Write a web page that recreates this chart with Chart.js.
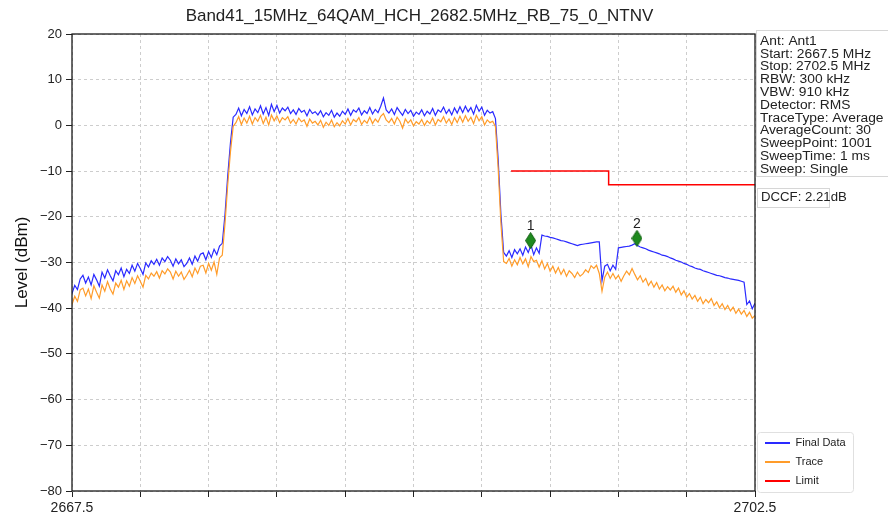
<!DOCTYPE html>
<html>
<head>
<meta charset="utf-8">
<script src="https://cdnjs.cloudflare.com/ajax/libs/Chart.js/4.4.1/chart.umd.min.js"></script>
<style>
    body { margin: 0; background: #ffffff; }
    canvas { display: block; }
</style>
</head>
<body>
<canvas id="spectrum" width="888" height="516"></canvas>
<script>
    // sweep grid (251 points across the span)
    const freqStart = 2667.5;
    const freqStop = 2702.5;

    // Final Data trace, dBm
    const finalData = [
        -36.8, -35.0, -35.9, -33.6, -32.8, -34.5, -33.2, -34.9, -32.6, -33.8,
        -35.2, -32.1, -33.4, -31.6, -32.9, -34.0, -31.8, -32.7, -31.2, -33.1,
        -31.5, -32.4, -30.6, -31.9, -30.2, -31.3, -32.6, -30.1, -31.0, -29.6,
        -30.4, -29.3, -30.6, -29.0, -29.8, -28.7, -29.5, -30.8, -29.2, -30.3,
        -29.4, -30.9, -30.2, -29.0, -30.4, -28.6, -29.7, -28.2, -27.9, -29.4,
        -27.6, -28.9, -27.1, -28.3, -26.4, -25.8, -19.5, -11.0, -3.8, 1.8,
        2.4, 3.8, 2.1, 3.5, 2.6, 4.1, 2.3, 3.6, 2.8, 4.3,
        2.5, 3.9, 2.2, 4.6, 3.0, 4.4, 2.7, 3.8, 3.2, 4.0,
        2.6, 3.4, 2.4, 3.7, 2.9, 3.3, 2.1, 3.5, 2.6, 3.0,
        2.3, 3.2, 1.9, 2.8, 2.2, 3.3, 1.8, 2.7, 2.0, 3.1,
        2.4, 3.6, 2.2, 3.4, 2.9, 3.8, 2.3, 3.2, 2.6, 3.9,
        2.5, 3.5, 2.8, 4.2, 6.0, 3.4, 2.7, 3.6, 2.4, 3.9,
        3.0, 2.2, 3.5, 2.6, 3.3, 2.0, 2.9, 2.4, 3.4, 2.1,
        3.1, 2.5, 3.7, 2.2, 3.4, 2.9, 4.0, 2.6, 3.5, 2.3,
        3.8, 2.7, 4.1, 2.8, 4.2, 3.0, 3.9, 2.5, 4.4, 3.1,
        4.0, 2.2, 3.3, 2.7, 3.0, 1.5, -7.5, -19.5, -27.8, -28.6,
        -27.4, -28.9, -27.2, -28.1, -27.0, -28.4, -26.6, -27.8, -26.2, -28.3,
        -26.8, -28.0, -24.0, -24.2, -24.3, -24.5, -24.6, -24.8, -25.0, -25.2,
        -25.3, -25.5, -25.7, -25.9, -26.1, -26.3, -26.1, -26.0, -25.9, -25.8,
        -25.7, -25.6, -25.5, -25.5, -34.0, -30.8, -30.4, -31.8, -30.6, -31.5,
        -26.8, -26.7, -26.6, -26.5, -26.4, -26.2, -25.9, -26.3, -26.6, -26.8,
        -27.0, -27.3, -27.5, -27.7, -27.9, -28.1, -28.4, -28.5, -28.7, -29.0,
        -29.2, -29.5, -29.7, -29.9, -30.2, -30.4, -30.7, -30.9, -31.2, -31.4,
        -31.5, -31.8, -32.0, -32.2, -32.4, -32.6, -32.8, -32.9, -33.1, -33.3,
        -33.4, -33.6, -33.7, -33.8, -33.9, -34.1, -34.3, -39.2, -38.4, -40.1,
        -38.9
    ];

    // Trace (average) values, dBm
    const traceData = [
        -39.2, -37.4, -38.5, -36.0, -35.6, -37.3, -35.8, -37.9, -35.1, -36.5,
        -37.8, -34.9, -36.3, -34.2, -35.8, -36.9, -34.5, -35.4, -33.9, -35.9,
        -34.0, -35.2, -33.3, -34.6, -32.9, -34.1, -35.4, -32.8, -33.6, -32.3,
        -33.0, -32.0, -33.4, -31.8, -32.5, -31.4, -32.1, -33.6, -31.9, -33.0,
        -32.1, -33.7, -32.8, -31.7, -33.1, -31.2, -32.4, -30.8, -30.6, -32.3,
        -30.2, -31.7, -29.9, -32.6, -29.0, -28.4, -21.5, -13.0, -5.8, -0.2,
        0.6, 1.9, 0.2, 1.6, 0.5, 2.0, 0.3, 1.7, 0.9, 2.2,
        0.4, 1.8, 0.1, 2.3, 1.0, 2.1, 0.6, 1.7, 1.2, 1.9,
        0.5, 1.3, 0.3, 1.6, 0.8, 1.2, -0.2, 1.4, 0.5, 0.9,
        0.1, 1.1, -0.4, 0.7, 0.0, 1.2, -0.3, 0.6, -0.1, 1.0,
        0.3, 1.5, 0.1, 1.3, 0.8, 1.7, 0.2, 1.1, 0.5, 1.8,
        0.4, 1.4, 0.7, 2.0, 2.6, 1.2, 0.6, 1.5, 0.3, 1.8,
        0.9, -0.6, 1.4, 0.5, 1.2, -0.1, 0.8, 0.3, 1.3, 0.0,
        1.0, 0.4, 1.6, 0.1, 1.3, 0.8, 1.9, 0.5, 1.4, 0.2,
        1.7, 0.6, 2.0, 0.7, 2.1, 0.9, 1.8, 0.4, 2.2, 1.0,
        1.9, 0.1, 1.2, 0.6, 0.9, -0.3, -9.5, -21.5, -29.8, -30.2,
        -29.1, -30.8, -29.4, -30.5, -28.9, -30.3, -29.2, -30.9, -28.7, -29.8,
        -29.5, -31.0, -29.6, -31.4, -30.2, -31.9, -30.8, -32.3, -31.1, -32.6,
        -31.5, -33.0, -31.8, -32.4, -33.3, -32.1, -33.0, -32.5, -31.6, -32.2,
        -30.7, -31.3, -30.6, -32.4, -36.3, -33.2, -32.1, -33.5, -32.4, -33.6,
        -32.8, -34.1, -32.9, -31.9, -32.7, -31.3, -32.6, -33.8, -32.9, -34.3,
        -33.5, -35.0, -34.1, -35.4, -34.4, -35.8, -34.9, -36.2, -35.3, -36.0,
        -35.2, -36.5, -35.6, -37.1, -36.2, -37.6, -36.8, -38.0, -37.2, -38.5,
        -37.6, -39.0, -38.1, -38.8, -37.9, -39.4, -38.6, -39.9, -39.0, -40.3,
        -39.4, -40.6, -39.8, -41.1, -40.2, -41.3, -40.5, -41.8, -40.9, -42.2,
        -41.6
    ];

    // limit line
    const limitFreq = [2690, 2695, 2695, 2702.5];
    const limitLevel = [-10, -10, -13, -13];

    // markers
    const markerNames = ['1', '2'];
    const markerFreq = [2691.0, 2696.45];
    const markerLevel = [-25.2, -24.7];

    // axes
    const xTicks = [2667.5, 2671, 2674.5, 2678, 2681.5, 2685, 2688.5, 2692, 2695.5, 2699, 2702.5];
    const yTicks = [20, 10, 0, -10, -20, -30, -40, -50, -60, -70, -80];

    const chartTitle = 'Band41_15MHz_64QAM_HCH_2682.5MHz_RB_75_0_NTNV';
    const infoLines = [
        'Ant: Ant1',
        'Start: 2667.5 MHz',
        'Stop: 2702.5 MHz',
        'RBW: 300 kHz',
        'VBW: 910 kHz',
        'Detector: RMS',
        'TraceType: Average',
        'AverageCount: 30',
        'SweepPoint: 1001',
        'SweepTime: 1 ms',
        'Sweep: Single'
    ];
    const dccfText = 'DCCF: 2.21dB';

    const FONT = '"Liberation Sans", Arial, Helvetica, sans-serif';
    Chart.defaults.font.family = FONT;
    Chart.defaults.color = '#222222';

    function freqAt(i, n) {
        return freqStart + i * (freqStop - freqStart) / (n - 1);
    }
    function toPoints(arr) {
        return arr.map((v, i) => ({ x: freqAt(i, arr.length), y: v }));
    }

    // thin green diamond for the markers
    var diamond = document.createElement('canvas');
    diamond.width = 11;
    diamond.height = 17;
    var dg = diamond.getContext('2d');
    dg.beginPath();
    dg.moveTo(5.5, 0.5);
    dg.lineTo(10.5, 8.5);
    dg.lineTo(5.5, 16.5);
    dg.lineTo(0.5, 8.5);
    dg.closePath();
    dg.fillStyle = '#1e8a1e';
    dg.fill();
    dg.strokeStyle = '#0c5c0c';
    dg.lineWidth = 1;
    dg.stroke();

    var decor = {
        id: 'decor',
        afterLayout(chart) {
            // nudge legend and title a few px, as in the original figure
            const lg = chart.legend;
            lg.top += 3.5; lg.bottom += 3.5;
            lg.left += 2; lg.right += 2;
            const tb = chart.titleBlock;
            tb.left += 6; tb.right += 6;
        },
        afterDatasetsDraw(chart) {
            const { ctx, chartArea: a } = chart;
            ctx.save();
            ctx.strokeStyle = '#1a1a1a';
            ctx.lineWidth = 1.3;
            ctx.strokeRect(a.left, a.top, a.right - a.left, a.bottom - a.top);

            // marker numbers above the diamonds
            const meta = chart.getDatasetMeta(3);
            ctx.fillStyle = '#222222';
            ctx.font = '14px ' + FONT;
            ctx.textAlign = 'center';
            ctx.textBaseline = 'middle';
            meta.data.forEach((pt, i) => ctx.fillText(markerNames[i], pt.x, pt.y - 14));
            ctx.restore();
        },
        afterDraw(chart) {
            const { ctx, chartArea: a } = chart;
            ctx.save();
            // parameter box
            ctx.strokeStyle = '#d6d6d6';
            ctx.lineWidth = 1;
            ctx.strokeRect(a.right + 1.5, 30.5, 140, 146);
            ctx.fillStyle = '#222222';
            ctx.font = '12px ' + FONT;
            ctx.textAlign = 'left';
            ctx.textBaseline = 'middle';
            infoLines.forEach((t, i) => {
                ctx.save();
                ctx.translate(a.right + 5, 41.5 + i * 12.8);
                ctx.scale(1.15, 1);
                ctx.fillText(t, 0, 0);
                ctx.restore();
            });
            // DCCF box
            ctx.strokeRect(a.right + 2.5, 188.5, 72, 19);
            ctx.save();
            ctx.translate(a.right + 6, 198);
            ctx.scale(1.1, 1);
            ctx.fillText(dccfText, 0, 0);
            ctx.restore();

            // faint frame round the legend
            const boxes = chart.legend.legendHitBoxes;
            if (boxes && boxes.length) {
                const l = Math.min(...boxes.map(b => b.left)) - 8;
                const t = Math.min(...boxes.map(b => b.top)) - 6;
                const r = Math.max(...boxes.map(b => b.left + b.width)) + 7;
                const btm = Math.max(...boxes.map(b => b.top + b.height)) + 5;
                ctx.strokeStyle = '#e0e0e0';
                ctx.beginPath();
                ctx.roundRect(Math.round(l) + 0.5, Math.round(t) + 0.5, Math.round(r - l), Math.round(btm - t), 3);
                ctx.stroke();
            }
            ctx.restore();
        }
    };

    var gridCommon = { color: '#cdcdcd', lineWidth: 1, tickColor: '#222222', tickLength: 6, tickWidth: 1, tickBorderDash: [] };
    var borderCommon = { display: false, dash: [3, 3] };

    var chart = new Chart(document.getElementById('spectrum').getContext('2d'), {
        type: 'line',
        data: {
            datasets: [
                { label: 'Final Data', data: toPoints(finalData), borderColor: '#2a2aff', borderWidth: 1.2, pointRadius: 0, order: 3 },
                { label: 'Trace', data: toPoints(traceData), borderColor: '#ff9c2a', borderWidth: 1.2, pointRadius: 0, order: 2 },
                { label: 'Limit', data: limitFreq.map((f, i) => ({ x: f, y: limitLevel[i] })), borderColor: '#ff0000', borderWidth: 1.5, pointRadius: 0, order: 1 },
                { label: 'Marker', data: markerFreq.map((f, i) => ({ x: f, y: markerLevel[i] })), showLine: false, pointStyle: diamond, pointRadius: 7, order: 0 }
            ]
        },
        options: {
            responsive: false,
            animation: false,
            events: [],
            devicePixelRatio: 1,
            layout: { padding: { left: 0, top: 0, right: 38, bottom: 0 } },
            scales: {
                x: {
                    type: 'linear',
                    min: freqStart,
                    max: freqStop,
                    afterBuildTicks: s => { s.ticks = xTicks.map(v => ({ value: v })); },
                    afterFit: s => { s.height = 25; },
                    ticks: {
                        autoSkip: false,
                        maxRotation: 0,
                        padding: 3,
                        font: { size: 14 },
                        callback: (v, i) => (i === 0 || i === xTicks.length - 1) ? v.toFixed(1) : ''
                    },
                    grid: gridCommon,
                    border: borderCommon
                },
                y: {
                    min: -80,
                    max: 20,
                    afterBuildTicks: s => { s.ticks = yTicks.map(v => ({ value: v })); },
                    afterFit: s => { s.width = 72; },
                    ticks: {
                        padding: 4,
                        font: { size: 13 },
                        callback: v => String(v).replace('-', '\u2212')
                    },
                    grid: gridCommon,
                    border: borderCommon,
                    title: { display: true, text: 'Level (dBm)', font: { size: 17 }, color: '#111111', padding: { top: 12, bottom: 0 } }
                }
            },
            plugins: {
                title: { display: true, text: chartTitle, fullSize: false, font: { size: 17, weight: 'normal' }, color: '#222222', padding: { top: 6, bottom: 7.6 } },
                legend: {
                    position: 'right',
                    align: 'end',
                    fullSize: false,
                    maxWidth: 95,
                    labels: {
                        font: { size: 11 },
                        color: '#222222',
                        usePointStyle: true,
                        pointStyle: 'line',
                        pointStyleWidth: 25,
                        padding: 8,
                        generateLabels: c => Chart.defaults.plugins.legend.labels.generateLabels(c).map(l => Object.assign(l, { lineWidth: 2 })),
                        filter: item => item.text !== 'Marker',
                        sort: (a, b) => a.datasetIndex - b.datasetIndex
                    }
                },
                tooltip: { enabled: false }
            }
        },
        plugins: [decor]
    });
</script>
</body>
</html>
